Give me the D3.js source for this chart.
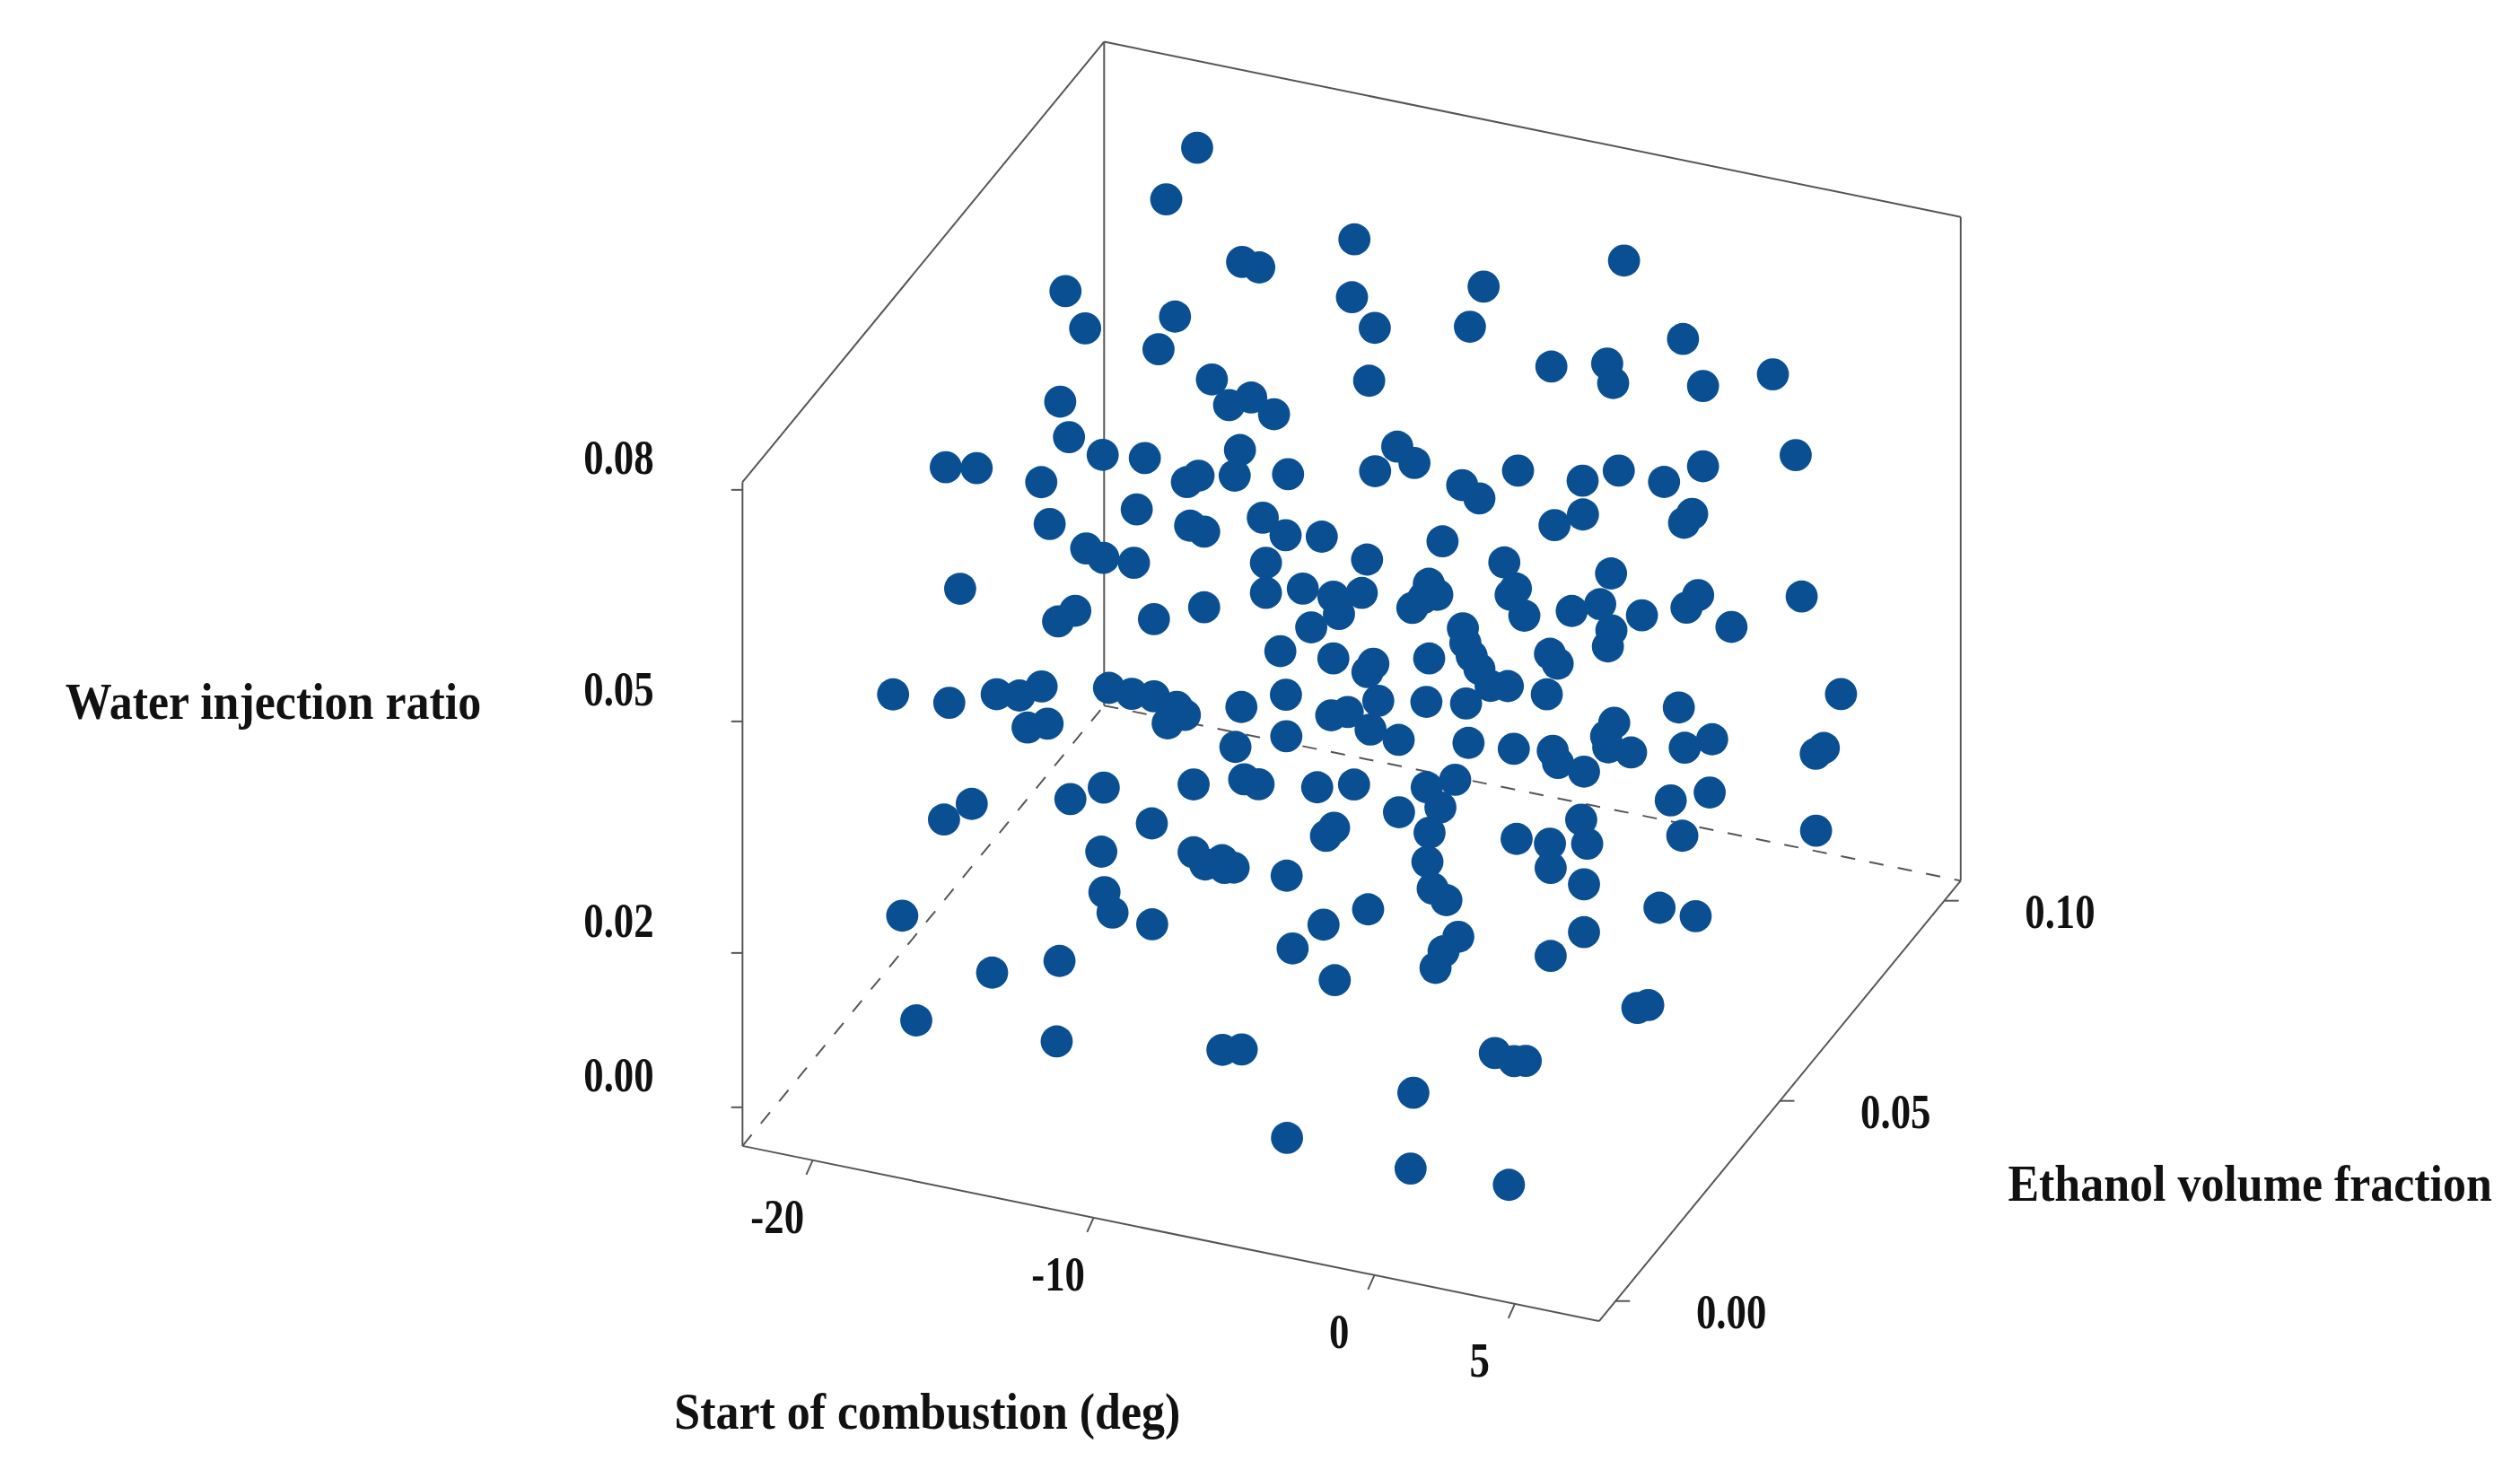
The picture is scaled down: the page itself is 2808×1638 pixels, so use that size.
<!DOCTYPE html>
<html><head><meta charset="utf-8">
<script src="https://cdn.jsdelivr.net/npm/d3@7"></script>
<style>body{margin:0;background:#fff}svg{display:block}</style>
</head><body>
<script>
// Start of combustion (deg)
const soc = [-17.9,-19.0,-16.3,-14.4,-12.3,-2.7,-21.3,-20.6,-17.4,-11.1,-9.0,-7.7,-6.9,-16.7,-14.8,-4.0,-3.3,-0.6,-1.8,2.6,1.4,-9.2,-12.9,-13.4,-11.3,-20.2,-18.6,4.7,-21.7,-20.6,-17.4,-15.9,-14.4,-12.7,-12.7,-13.8,-10.8,-7.7,-8.2,-6.3,-4.6,-2.7,-3.9,-1.6,-1.6,1.3,1.4,-18.3,-18.0,-14.9,-13.0,-12.5,-11.7,-9.6,-9.6,-10.3,-6.7,-5.3,-2.6,-0.3,2.3,3.3,-16.7,-14.8,-15.0,-19.9,-10.3,-7.7,-7.9,-5.6,-4.5,-3.4,-3.1,-1.4,-0.3,0.7,6.2,-15.8,-17.7,-13.0,-12.5,-7.4,-7.7,-3.8,-4.2,-2.0,-3.2,-1.1,-0.7,1.6,1.8,2.1,3.8,3.7,-8.5,-7.9,-5.4,-3.9,-3.2,-0.4,-2.7,1.1,-1.2,2.0,-0.7,-21.0,-19.0,-18.6,-16.5,-17.0,-15.5,-14.6,-12.5,-13.0,-10.9,-11.9,-8.6,-8.3,-5.4,-6.1,-6.3,-4.0,-3.3,-0.6,-2.3,-0.4,-0.3,3.1,2.1,4.4,4.3,5.9,7.6,6.7,5.7,0.6,-17.5,-13.8,-10.3,-10.1,-8.5,-6.7,-7.0,-5.9,-3.3,-3.0,-2.0,-1.8,1.1,1.2,0.1,3.6,2.7,-13.5,-13.4,-17.9,-18.2,-10.5,-10.3,-8.0,-6.3,-8.6,-4.3,-5.3,-1.7,-1.9,-2.8,0.3,1.2,1.1,3.5,5.0,5.4,5.5,7.1,8.0,-12.3,-10.9,-11.9,-9.2,-9.2,-5.7,-3.1,-2.8,0.6,-0.5,-1.3,3.7,3.6,5.0,5.0,-18.1,-12.5,-14.9,-4.2,-2.7,-0.4,-1.4,1.7,3.7,3.6,5.5,4.6,-17.6,-12.6,-6.7,-7.3,3.0,2.4,4.1,0.1,-4.4,0.0,3.5];
// Ethanol volume fraction
const eth = [0.094,0.094,0.094,0.083,0.094,0.094,0.083,0.083,0.083,0.083,0.072,0.094,0.083,0.072,0.072,0.083,0.094,0.094,0.083,0.094,0.083,0.072,0.061,0.072,0.061,0.072,0.061,0.083,0.050,0.050,0.061,0.061,0.061,0.050,0.061,0.072,0.061,0.061,0.072,0.061,0.061,0.050,0.072,0.072,0.083,0.072,0.083,0.050,0.050,0.050,0.050,0.050,0.061,0.050,0.061,0.050,0.050,0.061,0.072,0.061,0.072,0.061,0.050,0.039,0.050,0.039,0.050,0.039,0.050,0.039,0.050,0.039,0.061,0.050,0.039,0.061,0.072,0.039,0.050,0.039,0.050,0.039,0.050,0.039,0.050,0.039,0.050,0.050,0.061,0.050,0.061,0.072,0.061,0.072,0.039,0.050,0.039,0.028,0.039,0.028,0.050,0.039,0.061,0.050,0.072,0.028,0.028,0.039,0.028,0.039,0.028,0.039,0.028,0.039,0.028,0.039,0.028,0.039,0.028,0.039,0.050,0.028,0.039,0.028,0.050,0.039,0.050,0.039,0.050,0.050,0.061,0.039,0.072,0.072,0.083,0.061,0.039,0.050,0.028,0.039,0.028,0.017,0.028,0.028,0.017,0.028,0.028,0.039,0.028,0.039,0.050,0.028,0.050,0.028,0.017,0.017,0.028,0.017,0.028,0.017,0.006,0.017,0.017,0.028,0.017,0.028,0.039,0.017,0.028,0.039,0.028,0.017,0.039,0.050,0.028,0.061,0.017,0.006,0.017,0.006,0.028,0.017,0.006,0.017,0.006,0.017,0.028,0.017,0.028,0.039,0.050,0.006,0.006,0.006,0.006,0.006,0.017,0.028,0.006,0.017,0.028,0.028,0.039,0.006,0.006,0.006,0.017,0.006,0.017,0.006,0.006,0.006,0.006,0.006];
// Water injection ratio
const water = [0.0764,0.0689,0.0628,0.0692,0.0687,0.0731,0.0610,0.0567,0.0606,0.0678,0.0711,0.0660,0.0671,0.0626,0.0601,0.0641,0.0593,0.0645,0.0636,0.0623,0.0656,0.0641,0.0639,0.0588,0.0639,0.0532,0.0555,0.0591,0.0550,0.0557,0.0541,0.0548,0.0528,0.0606,0.0549,0.0517,0.0565,0.0592,0.0563,0.0613,0.0597,0.0651,0.0564,0.0568,0.0524,0.0588,0.0552,0.0556,0.0504,0.0546,0.0539,0.0535,0.0502,0.0552,0.0493,0.0511,0.0542,0.0519,0.0503,0.0591,0.0554,0.0607,0.0482,0.0541,0.0476,0.0463,0.0472,0.0554,0.0485,0.0564,0.0527,0.0574,0.0508,0.0544,0.0601,0.0522,0.0476,0.0465,0.0380,0.0475,0.0437,0.0506,0.0464,0.0558,0.0515,0.0545,0.0460,0.0511,0.0463,0.0546,0.0476,0.0431,0.0517,0.0418,0.0467,0.0405,0.0463,0.0542,0.0497,0.0578,0.0430,0.0535,0.0391,0.0515,0.0360,0.0375,0.0379,0.0336,0.0407,0.0358,0.0378,0.0374,0.0439,0.0375,0.0434,0.0359,0.0451,0.0412,0.0464,0.0406,0.0362,0.0456,0.0440,0.0515,0.0411,0.0482,0.0415,0.0443,0.0396,0.0433,0.0334,0.0449,0.0360,0.0276,0.0219,0.0296,0.0301,0.0277,0.0338,0.0331,0.0358,0.0422,0.0425,0.0367,0.0447,0.0450,0.0396,0.0398,0.0469,0.0410,0.0329,0.0458,0.0362,0.0310,0.0353,0.0293,0.0254,0.0343,0.0250,0.0314,0.0374,0.0304,0.0373,0.0319,0.0423,0.0338,0.0307,0.0480,0.0353,0.0289,0.0395,0.0432,0.0377,0.0331,0.0401,0.0243,0.0293,0.0308,0.0217,0.0279,0.0238,0.0311,0.0324,0.0289,0.0433,0.0333,0.0255,0.0391,0.0312,0.0235,0.0167,0.0224,0.0207,0.0174,0.0285,0.0255,0.0231,0.0188,0.0344,0.0277,0.0250,0.0166,0.0106,0.0092,0.0102,0.0135,0.0074,0.0203,0.0131,0.0201,0.0130,0.0038,0.0031,0.0036];

const socTicks = [-20,-10,0,5];
const ethTicks = [0.00,0.05,0.10];
const waterTicks = [0.00,0.02,0.05,0.08];
const tickLabels = {water:["0.00","0.02","0.05","0.08"], soc:["-20","-10","0","5"], eth:["0.00","0.05","0.10"]};

const W=2808,H=1638,k=W/1568;
const svg=d3.select("body").append("svg").attr("width",W).attr("height",H);
const g=svg.append("g").attr("transform",`scale(${k})`);

const uS=d3.scaleLinear().domain([-22.5,8]).range([0,1]);
const tS=d3.scaleLinear().domain([-0.005,0.105]).range([0,1]);
const vS=d3.scaleLinear().domain([-0.005,0.081]).range([0,1]);
const O=[462,713], SU=[533,109], ST=[225,-274], HV=413;
function proj(u,t,v){return [O[0]+SU[0]*u+ST[0]*t, O[1]+SU[1]*u+ST[1]*t-HV*v];}
const P=(s,e,w)=>proj(uS(s),tS(e),vS(w));

const line=(a,b,dash)=>g.append("line").attr("x1",a[0]).attr("y1",a[1]).attr("x2",b[0]).attr("y2",b[1])
  .attr("stroke","#555").attr("stroke-width",1.1).attr("stroke-dasharray",dash?"9,9":null);
// box
line(proj(0,0,0),proj(0,0,1));
line(proj(0,0,1),proj(0,1,1));
line(proj(0,1,1),proj(0,1,0));
line(proj(0,1,1),proj(1,1,1));
line(proj(1,1,1),proj(1,1,0));
line(proj(0,0,0),proj(1,0,0));
line(proj(1,0,0),proj(1,1,0));
line(proj(0,0,0),proj(0,1,0),true);
line(proj(0,1,0),proj(1,1,0),true);

const fnt="'Liberation Serif','Times New Roman',serif";
const txt=(x,y,s,anchor,size,sy)=>g.append("text").attr("transform",`translate(${x},${y}) scale(1,${sy})`).text(s)
  .attr("text-anchor",anchor).attr("font-family",fnt).attr("font-weight","bold").attr("font-size",size)
  .attr("fill","#111").attr("dominant-baseline","middle");

waterTicks.forEach((w,i)=>{const p=proj(0,0,vS(w));line([p[0]-7,p[1]],p);txt(p[0]-77,p[1]-17,tickLabels.water[i],"middle",25,1.25);});
socTicks.forEach((s,i)=>{const p=proj(uS(s),0,0);line(p,[p[0]-4,p[1]+9]);txt(p[0]-22,p[1]+38,tickLabels.soc[i],"middle",25,1.25);});
ethTicks.forEach((e,i)=>{const p=proj(1,tS(e),0);line(p,[p[0]+9,p[1]]);txt(p[0]+72,p[1]+10,tickLabels.eth[i],"middle",25,1.25);});

txt(170,440,"Water injection ratio","middle",29,1.08);
txt(577,882,"Start of combustion (deg)","middle",29,1.08);
txt(1400,740,"Ethanol volume fraction","middle",29,1.08);

// points: draw back to front
const pts=soc.map((s,i)=>({s,e:eth[i],w:water[i]}));
pts.sort((a,b)=>b.e-a.e);
g.selectAll("circle.pt").data(pts).join("circle").attr("class","pt")
  .attr("cx",d=>P(d.s,d.e,d.w)[0]).attr("cy",d=>P(d.s,d.e,d.w)[1])
  .attr("r",10).attr("fill","#0b4f93");
</script>
</body></html>
